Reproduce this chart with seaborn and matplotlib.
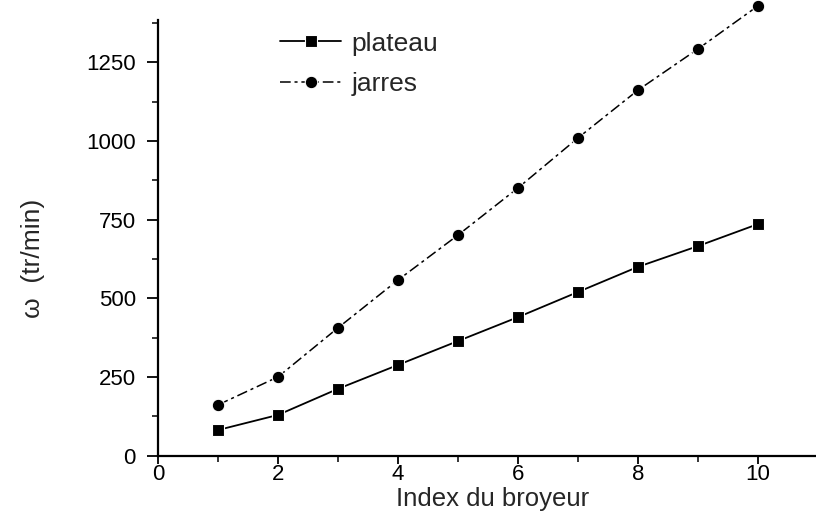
import matplotlib as mpl
import matplotlib.pyplot as plt
import numpy as np
import pandas as pd
import seaborn as sns
from matplotlib.ticker import MultipleLocator

mpl.use("Agg")

# data
index = [1, 2, 3, 4, 5, 6, 7, 8, 9, 10]
plateau = [81, 129, 212, 288, 364, 440, 520, 600, 666, 736]
jarres = [161, 250, 406, 558, 701, 851, 1010, 1162, 1293, 1430]
x_ticks = [0, 2, 4, 6, 8, 10]
y_ticks = [0, 250, 500, 750, 1000, 1250]

df = pd.DataFrame({"index": index, "plateau": plateau, "jarres": jarres})

sns.set_style("ticks")
plt.rcParams["font.family"] = ["Liberation Sans", "DejaVu Sans"]

fig = plt.figure(figsize=(8.16, 5.22), dpi=100)
ax = fig.add_axes([158 / 816, 66.5 / 522, 658 / 816, 435.5 / 522])

sns.lineplot(data=df, x="index", y="plateau", ax=ax, color="black", lw=1.3,
             marker="s", markersize=9, markeredgecolor="white", markeredgewidth=0.8,
             linestyle="-", label="plateau", clip_on=False)
sns.lineplot(data=df, x="index", y="jarres", ax=ax, color="black", lw=1.1,
             marker="o", markersize=9, markeredgecolor="white", markeredgewidth=0.8,
             linestyle=(0, (7, 2.5, 2, 2.5)), label="jarres", clip_on=False)

ax.set_xlim(0, 658 / 60)
ax.set_ylim(0, 1385)
ax.set_xticks(x_ticks)
ax.set_yticks(y_ticks)
ax.xaxis.set_minor_locator(MultipleLocator(1))
ax.yaxis.set_minor_locator(MultipleLocator(125))
ax.tick_params(axis="both", which="major", direction="out", length=8, width=1.3,
               labelsize=16, color="black", labelcolor="black")
ax.tick_params(axis="y", which="major", pad=8)
ax.tick_params(axis="x", which="major", length=6, pad=0)
ax.tick_params(axis="both", which="minor", direction="out", length=4, width=1.1, color="black")
for s in ["left", "bottom"]:
    ax.spines[s].set_linewidth(1.6)
    ax.spines[s].set_color("black")
sns.despine(ax=ax)

ax.set_xlabel("Index du broyeur", fontsize=18.5)
ax.set_ylabel("\u03c9  (tr/min)", fontsize=19)
ax.xaxis.set_label_coords(0.509, -0.072)
ax.yaxis.set_label_coords(-0.172, 0.453)

leg = ax.legend(loc="upper left", bbox_to_anchor=(0.15, 1.028), frameon=False,
                fontsize=19, handlelength=2.3, handletextpad=0.4, labelspacing=0.62)

fig.savefig("out.png", dpi=100, facecolor="white")
